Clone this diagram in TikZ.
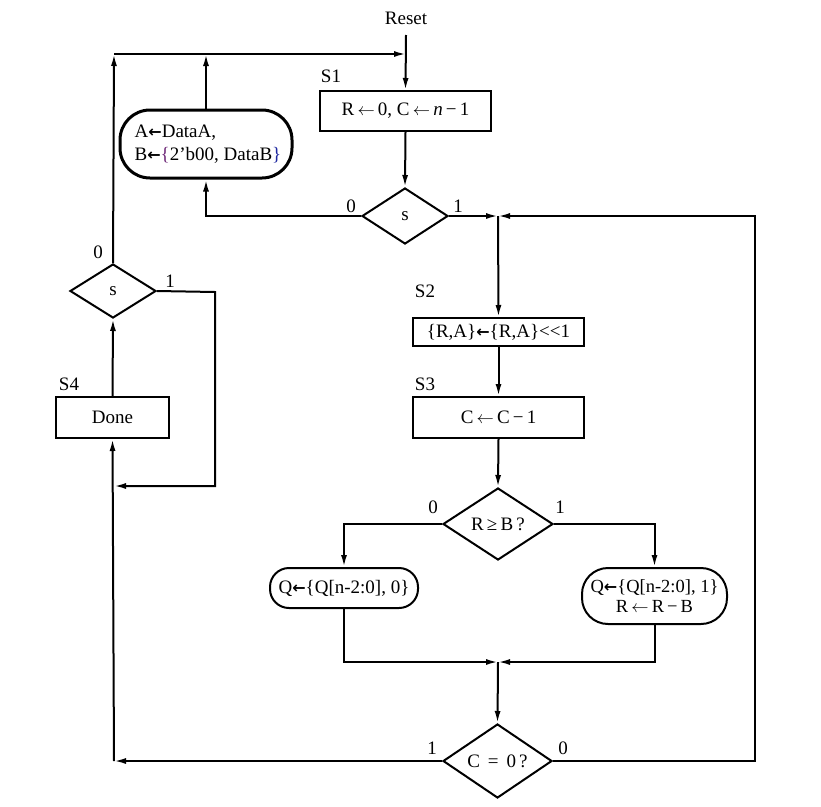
\documentclass[tikz,border=0pt]{standalone}
\usepackage{fontspec}
\setmainfont{Liberation Serif}
\newfontfamily\djv{DejaVu Sans}
\usetikzlibrary{shapes.geometric,arrows.meta}
\definecolor{bracep}{RGB}{110,40,120}
\definecolor{braceb}{RGB}{30,40,160}
\newcommand{\thinarr}{\,\ensuremath{\leftarrow}\,}
\newcommand{\fatarr}{{\djv\fontsize{16}{18}\selectfont\bfseries ←}}
\begin{document}
\begin{tikzpicture}[x=1pt,y=-1pt,
  line width=2pt,
  font=\fontsize{19}{23}\selectfont,
  arr/.style={-{Latex[length=12pt,width=6pt]}},
  box/.style={draw,rectangle,inner sep=0pt,line width=2pt},
  oval/.style={draw,rectangle,inner sep=0pt,line width=2pt},
  dia/.style={draw,diamond,inner sep=0pt,line width=2pt},
  lbl/.style={inner sep=0pt}]
\useasboundingbox (0,0) rectangle (821,806);
\fill[white] (0,0) rectangle (821,806);
% nodes
\node[lbl] (reset) at (406,18) {Reset};
\node[box,minimum width=171pt,minimum height=40pt] (s1) at (405.5,111) {R\thinarr 0, C\thinarr\textit{n}\,−\,1};
\node[lbl] (ls1) at (331,76) {S1};
\node[oval,line width=3pt,rounded corners=30pt,minimum width=172pt,minimum height=68pt,align=left] (ova) at (206,144)
  {\hspace{4pt}A\fatarr DataA,\\\hspace{4pt}B\fatarr\textcolor{bracep}{\{}2’b00, DataB\textcolor{braceb}{\}}};
\node[dia,minimum width=86pt,minimum height=56pt] (d1) at (405,216) {s};
\node[lbl] (l10) at (351,206) {0};
\node[lbl] (l11) at (458,206) {1};
\node[lbl] (ls2) at (425,291) {S2};
\node[box,minimum width=171pt,minimum height=28pt] (s2) at (498.5,332) {\{R,A\}\fatarr\{R,A\}<{}<1};
\node[lbl] (ls3) at (425,384) {S3};
\node[box,minimum width=171pt,minimum height=41pt] (s3) at (498.5,417.5) {C\thinarr C\,−\,1};
\node[dia,minimum width=110pt,minimum height=72pt] (dr) at (498,524) {R\,≥\,B\,?};
\node[lbl] (lr0) at (433,507) {0};
\node[lbl] (lr1) at (560,507) {1};
\node[oval,rounded corners=19pt,minimum width=148pt,minimum height=40pt] (ovl) at (344,588) {Q\fatarr\{Q[n-2:0],\ 0\}};
\node[oval,rounded corners=26pt,minimum width=145pt,minimum height=56pt,align=center,font=\fontsize{18.5}{20}\selectfont] (ovr) at (654.5,596)
  {Q\fatarr\{Q[n-2:0],\ 1\}\\R\thinarr R\,−\,B};
\node[dia,minimum width=109pt,minimum height=74pt] (dc) at (497.5,761) {C\ \,=\ \,0\,?};
\node[lbl] (lc1) at (432,748) {1};
\node[lbl] (lc0) at (563,748) {0};
\node[lbl] (ls4) at (69,384) {S4};
\node[box,minimum width=113pt,minimum height=41pt] (done) at (112.5,417.5) {Done};
\node[dia,minimum width=86pt,minimum height=54pt] (d2) at (113,291) {s};
\node[lbl] (l20) at (98,252) {0};
\node[lbl] (l21) at (170,281) {1};
% coordinates
\coordinate (rs) at (406,35);
\coordinate (tl) at (114,54);
\coordinate (tm) at (206,54);
\coordinate (tr) at (406,54);
\coordinate (j1) at (498,216);
\coordinate (j2) at (498,662);
\coordinate (cr) at (755,761);
\coordinate (cl) at (114,761);
\coordinate (c2) at (215,292);
\coordinate (cm) at (114,486);
% connectors
\draw[arr] (rs) -- (s1.north);
\draw[arr] (tl) -- (tr);
\draw[arr] (s1.south) -- (d1.north);
\draw[arr] (d1.west) -| (ova.south);
\draw[arr] (ova.north) -- (tm);
\draw[arr] (d1.east) -- (j1);
\draw[arr] (dc.east) -- (cr) |- (j1);
\draw[arr] (j1) -- (s2.north);
\draw[arr] (s2.south) -- (s3.north);
\draw[arr] (s3.south) -- (dr.north);
\draw[arr] (dr.west) -| (ovl.north);
\draw[arr] (dr.east) -| (ovr.north);
\draw[arr] (ovl.south) |- (j2);
\draw[arr] (ovr.south) |- (j2);
\draw[arr] (j2) -- (dc.north);
\draw[arr] (dc.west) -- (cl);
\draw[arr] (cl) -- (done.south);
\draw[arr] (done.north) -- (d2.south);
\draw[arr] (d2.north) -- (tl);
\draw[arr] (d2.east) -- (c2) |- (cm);
\end{tikzpicture}
\end{document}
